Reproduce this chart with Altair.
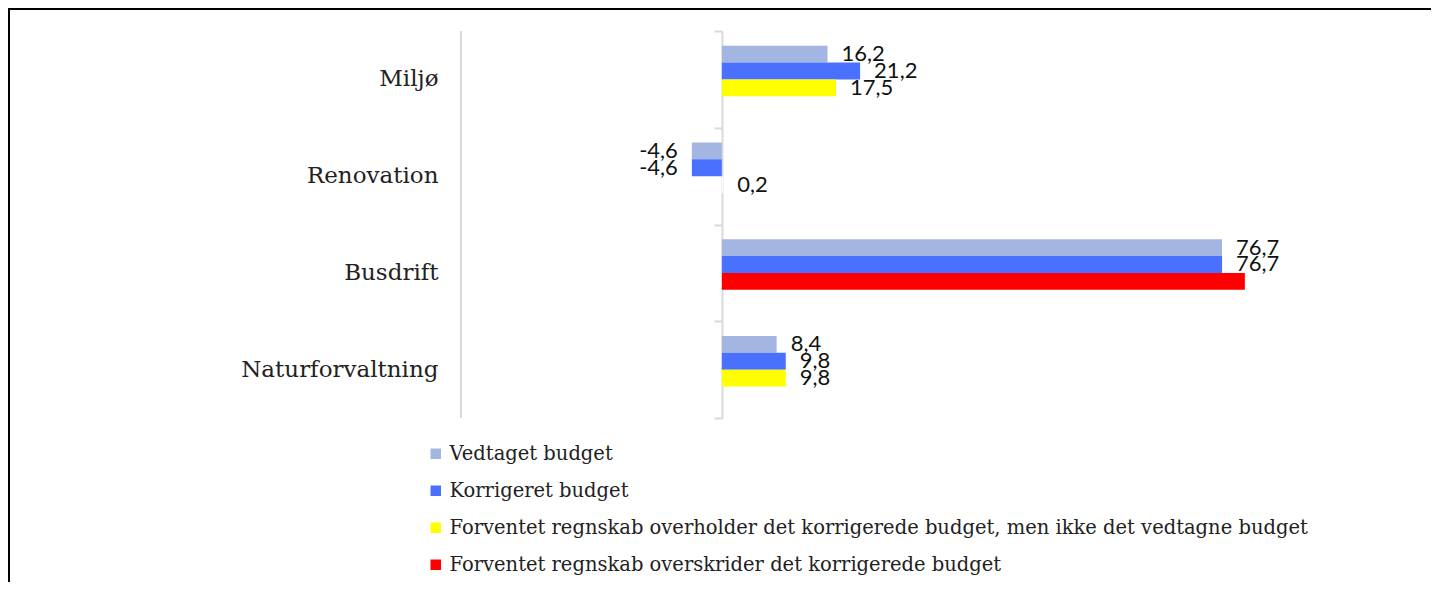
import altair as alt
import pandas as pd

categories = ["Miljø", "Renovation", "Busdrift", "Naturforvaltning"]
vedtaget = [16.2, -4.6, 76.7, 8.4]
korrigeret = [21.2, -4.6, 76.7, 9.8]
forventet = [17.5, 0.2, 80.2, 9.8]
forventet_status = ["gul", "ingen", "rød", "gul"]
forventet_label = [True, True, False, True]

legend_names = [
    "Vedtaget budget",
    "Korrigeret budget",
    "Forventet regnskab overholder det korrigerede budget, men ikke det vedtagne budget",
    "Forventet regnskab overskrider det korrigerede budget",
]
legend_colors = ["#A3B5E1", "#4A70FF", "#FFFF00", "#FF0000"]
status_map = {"gul": legend_names[2], "rød": legend_names[3], "ingen": "ingen"}
slots = ["V", "K", "F", "X"]


def fmt(v):
    return f"{v:.1f}".replace(".", ",")


rows = []
for i, c in enumerate(categories):
    rows.append(dict(cat=c, slot="V", value=vedtaget[i], status=legend_names[0], label=fmt(vedtaget[i])))
    rows.append(dict(cat=c, slot="K", value=korrigeret[i], status=legend_names[1], label=fmt(korrigeret[i])))
    rows.append(dict(cat=c, slot="F", value=forventet[i], status=status_map[forventet_status[i]],
                     label=fmt(forventet[i]) if forventet_label[i] else ""))
df = pd.DataFrame(rows)

y_enc = alt.Y(
    "cat:N",
    sort=categories,
    title=None,
    scale=alt.Scale(domain=categories, paddingInner=0.305, paddingOuter=0.1525),
    axis=alt.Axis(
        orient="left",
        offset=-261,
        domainColor="#D9D9D9",
        domainWidth=2,
        ticks=False,
        labelPadding=284,
        labelFont="DejaVu Serif",
        labelFontSize=23,
        labelColor="#222222",
        labelLimit=0,
        grid=False,
    ),
)
yoff_enc = alt.YOffset("slot:N", sort=slots, scale=alt.Scale(domain=slots, paddingInner=0, paddingOuter=0))
x_enc = alt.X("value:Q", scale=alt.Scale(domain=[-40, 100], nice=False, zero=False), axis=None, title=None)

base = alt.Chart(df).encode(y=y_enc, yOffset=yoff_enc, x=x_enc)

bars = base.transform_filter(
    alt.FieldOneOfPredicate(field="status", oneOf=legend_names)
).mark_bar().encode(
    color=alt.Color(
        "status:N",
        scale=alt.Scale(domain=legend_names, range=legend_colors),
        legend=alt.Legend(
            title=None,
            orient="none",
            legendX=-35,
            legendY=413,
            padding=0,
            direction="vertical",
            symbolType="square",
            symbolSize=110,
            symbolStrokeWidth=0,
            labelFont="DejaVu Serif",
            labelFontSize=19.5,
            labelColor="#222222",
            labelLimit=0,
            labelOffset=4,
            rowPadding=16,
        ),
    ),
    x2=alt.datum(0),
)

hidden = base.transform_filter(alt.datum.status == "ingen").mark_bar(color="white").encode(x2=alt.datum(0))

labels_pos = base.transform_filter(alt.datum.value >= 0).mark_text(
    align="left", baseline="middle", dx=14, font="Lato", fontSize=22, color="#111111"
).encode(text="label:N")
labels_neg = base.transform_filter(alt.datum.value < 0).mark_text(
    align="right", baseline="middle", dx=-14, font="Lato", fontSize=22, color="#111111"
).encode(text="label:N")

left_line = alt.Chart(pd.DataFrame({"v": [-40]})).mark_rule(color="#D9D9D9", strokeWidth=2).encode(
    x=alt.X("v:Q")
)

frame_top = alt.Chart(pd.DataFrame({"d": [0]})).mark_rule(color="black", strokeWidth=2).encode(
    x=alt.value(-453), x2=alt.value(970), y=alt.value(-22)
)
frame_left = alt.Chart(pd.DataFrame({"d": [0]})).mark_rule(color="black", strokeWidth=2).encode(
    x=alt.value(-452), y=alt.value(-23), y2=alt.value(551)
)

main = alt.layer(bars, hidden, labels_pos, labels_neg, left_line, frame_top, frame_left)

tick_layer = alt.Chart(pd.DataFrame({"cat": categories})).mark_point(opacity=0).encode(
    y=alt.Y(
        "cat:N",
        sort=categories,
        title=None,
        scale=alt.Scale(domain=categories, paddingInner=0, paddingOuter=0),
        axis=alt.Axis(
            orient="left",
            offset=-261,
            domain=False,
            labels=False,
            tickColor="#D9D9D9",
            tickWidth=2,
            tickSize=8,
            tickBand="extent",
            grid=False,
        ),
    ),
    x=alt.value(0),
)

chart = alt.layer(main, tick_layer).resolve_scale(y="independent").properties(
    width=913,
    height=387,
    background="white",
    autosize=alt.AutoSizeParams(type="none"),
    padding={"left": 453, "top": 23, "right": 58, "bottom": 164},
).configure_view(strokeWidth=0, stroke="transparent")

chart.save("out.html", embed_options={"renderer": "svg", "actions": False})
